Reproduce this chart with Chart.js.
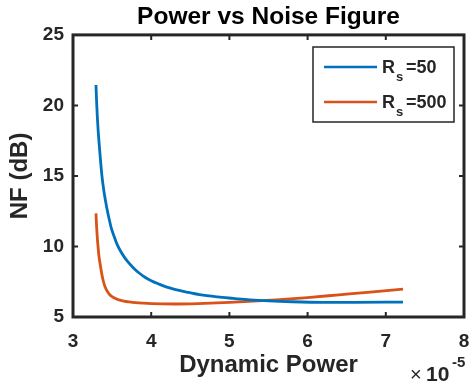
<!DOCTYPE html>
<html>
<head>
<meta charset="utf-8">
<script src="https://cdn.jsdelivr.net/npm/chart.js@4.4.1/dist/chart.umd.min.js"></script>
<style>
  html, body { margin: 0; padding: 0; background: #fff; }
  #wrap { width: 470px; height: 392px; }
</style>
</head>
<body>
<div id="wrap"><canvas id="c" width="470" height="392"></canvas></div>
<script>
// --- DATA (x in units of 1e-5) ---
const xTicks = [3, 4, 5, 6, 7, 8];
const yTicks = [5, 10, 15, 20, 25];

const rs50X = [3.294, 3.30, 3.31, 3.32, 3.34, 3.37, 3.40, 3.43, 3.46, 3.49, 3.52, 3.56, 3.60, 3.65, 3.70, 3.77, 3.85, 3.92, 4.00, 4.10, 4.20, 4.30, 4.45, 4.62, 4.85, 5.05, 5.26, 5.50, 5.80, 6.20, 6.60, 7.22];
const rs50Y = [21.45, 20.5, 19.3, 18.35, 16.9, 15.0, 13.75, 12.8, 12.0, 11.3, 10.8, 10.2, 9.75, 9.3, 8.92, 8.5, 8.1, 7.82, 7.57, 7.33, 7.12, 6.96, 6.77, 6.58, 6.42, 6.32, 6.22, 6.14, 6.08, 6.04, 6.04, 6.06];

const rs500X = [3.294, 3.30, 3.31, 3.32, 3.33, 3.35, 3.37, 3.39, 3.41, 3.43, 3.45, 3.47, 3.50, 3.55, 3.60, 3.65, 3.72, 3.80, 3.90, 4.00, 4.30, 4.60, 5.00, 5.30, 5.60, 6.00, 6.40, 6.80, 7.22];
const rs500Y = [12.35, 11.6, 10.7, 10.0, 9.4, 8.65, 8.0, 7.5, 7.15, 6.9, 6.72, 6.58, 6.45, 6.3, 6.2, 6.13, 6.07, 6.02, 5.98, 5.95, 5.92, 5.95, 6.03, 6.12, 6.22, 6.38, 6.57, 6.76, 6.97];

const legendNames = [['R', 's', '=50'], ['R', 's', '=500']];
const colors = ['#0072BD', '#D95319'];

const FONT = '"Liberation Sans", Arial, sans-serif';
const INK = '#262626';

const toPts = (xs, ys) => xs.map((x, i) => ({ x: x, y: ys[i] }));

// box, inner ticks, legend, exponent
const matlabAxes = {
    id: 'matlabAxes',
    afterDraw(chart) {
        const ctx = chart.ctx;
        const a = chart.chartArea;
        const sx = chart.scales.x, sy = chart.scales.y;
        ctx.save();
        ctx.strokeStyle = INK;
        ctx.lineWidth = 3;
        ctx.strokeRect(a.left, a.top, a.right - a.left, a.bottom - a.top);
        ctx.lineWidth = 2;
        const tl = 5;
        xTicks.forEach(v => {
            const px = sx.getPixelForValue(v);
            ctx.beginPath();
            ctx.moveTo(px, a.bottom); ctx.lineTo(px, a.bottom - tl);
            ctx.moveTo(px, a.top); ctx.lineTo(px, a.top + tl);
            ctx.stroke();
        });
        yTicks.forEach(v => {
            const py = sy.getPixelForValue(v);
            ctx.beginPath();
            ctx.moveTo(a.left, py); ctx.lineTo(a.left + tl, py);
            ctx.moveTo(a.right, py); ctx.lineTo(a.right - tl, py);
            ctx.stroke();
        });

        // legend
        ctx.fillStyle = '#fff';
        ctx.fillRect(313, 47, 141, 75);
        ctx.strokeStyle = INK;
        ctx.lineWidth = 1.5;
        ctx.strokeRect(313, 47, 141, 75);
        legendNames.forEach((parts, i) => {
            const y = 67 + i * 35;
            ctx.strokeStyle = colors[i];
            ctx.lineWidth = 2.5;
            ctx.beginPath();
            ctx.moveTo(324, y); ctx.lineTo(377, y);
            ctx.stroke();
            ctx.fillStyle = INK;
            ctx.textBaseline = 'alphabetic';
            ctx.textAlign = 'left';
            ctx.font = 'bold 18px ' + FONT;
            ctx.fillText(parts[0], 382, y + 6);
            ctx.font = 'bold 13px ' + FONT;
            ctx.fillText(parts[1], 396, y + 14);
            ctx.font = 'bold 18px ' + FONT;
            ctx.fillText(parts[2], 406, y + 6);
        });

        // exponent label
        ctx.fillStyle = INK;
        ctx.font = '20px ' + FONT;
        ctx.fillText('\u00d7', 410, 381);
        ctx.font = 'bold 21px ' + FONT;
        ctx.fillText('10', 426, 381);
        ctx.font = 'bold 15px ' + FONT;
        ctx.fillText('-5', 452, 367);
        ctx.restore();
    }
};

new Chart(document.getElementById('c'), {
    type: 'line',
    data: {
        datasets: [
            { label: 'Rs=50', data: toPts(rs50X, rs50Y), borderColor: colors[0], borderWidth: 2.8, pointRadius: 0, cubicInterpolationMode: 'monotone', fill: false },
            { label: 'Rs=500', data: toPts(rs500X, rs500Y), borderColor: colors[1], borderWidth: 2.8, pointRadius: 0, cubicInterpolationMode: 'monotone', fill: false }
        ]
    },
    options: {
        responsive: false,
        animation: false,
        events: [],
        layout: { padding: { left: 0, top: 0, right: 6, bottom: 0 } },
        plugins: {
            legend: { display: false },
            tooltip: { enabled: false },
            title: {
                display: true,
                text: 'Power vs Noise Figure',
                color: 'black',
                fullSize: false,
                font: { family: FONT, size: 24.5, weight: 'bold', lineHeight: 1.2 },
                padding: { top: 3, bottom: 2.5 }
            }
        },
        scales: {
            x: {
                type: 'linear', min: 3, max: 8,
                afterFit: s => { s.height = 75; s.paddingLeft = 0; s.paddingRight = 0; },
                afterBuildTicks: s => { s.ticks = xTicks.map(v => ({ value: v })); },
                grid: { display: false, drawTicks: false },
                border: { display: false },
                ticks: { color: INK, padding: 13, font: { family: FONT, size: 19, weight: 'bold' } },
                title: { display: true, text: 'Dynamic Power', color: INK, padding: { top: 0, bottom: 12 }, font: { family: FONT, size: 24, weight: 'bold', lineHeight: 1.2 } }
            },
            y: {
                type: 'linear', min: 5, max: 25,
                afterFit: s => { s.width = 73; s.paddingTop = 0; s.paddingBottom = 0; },
                afterBuildTicks: s => { s.ticks = yTicks.map(v => ({ value: v })); },
                grid: { display: false, drawTicks: false },
                border: { display: false },
                ticks: { color: INK, padding: 9, font: { family: FONT, size: 19, weight: 'bold' } },
                title: { display: true, text: 'NF (dB)', color: INK, padding: { top: 6, bottom: 0 }, font: { family: FONT, size: 24, weight: 'bold', lineHeight: 1.2 } }
            }
        }
    },
    plugins: [matlabAxes]
});
</script>
</body>
</html>
